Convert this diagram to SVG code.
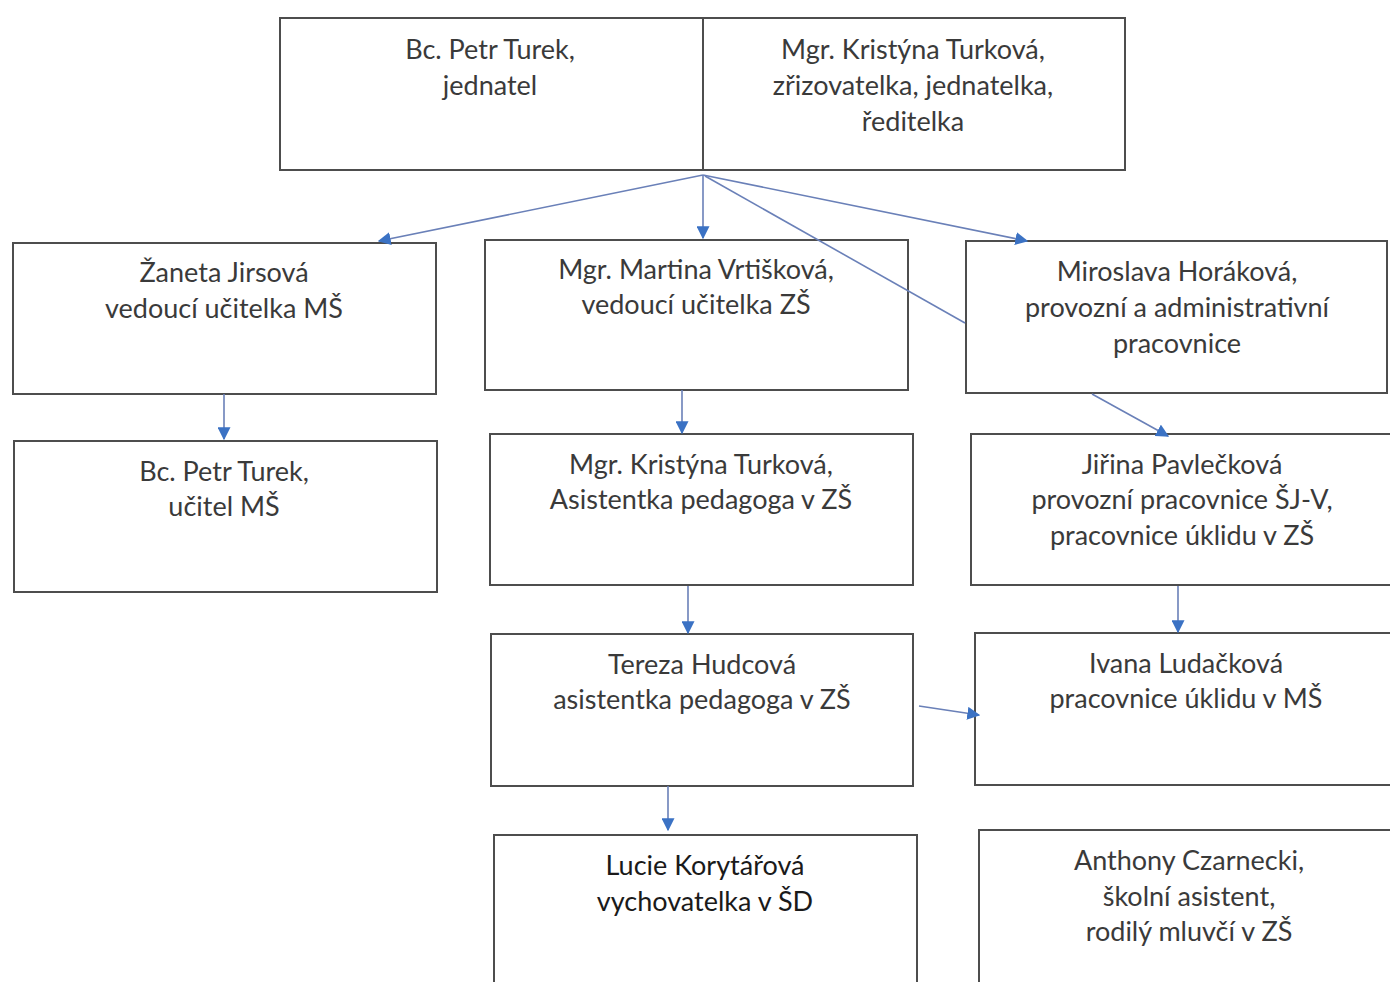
<svg xmlns="http://www.w3.org/2000/svg" width="1390" height="982" viewBox="0 0 1390 982">
<defs>
<style>
.box{fill:#fff;stroke:#4d4d4d;stroke-width:2}
.t{font-family:Lato,"Open Sans","Liberation Sans",sans-serif;font-size:27px;fill:#3a3a3a;text-anchor:middle}
.dk{fill:#1a1a1a}
.c{stroke:#6a80b8;stroke-width:1.6;fill:none}
</style>
<marker id="ah" viewBox="0 0 10 10" refX="9" refY="5" markerWidth="13" markerHeight="13" markerUnits="userSpaceOnUse" orient="auto">
<path d="M0,0 L10,5 L0,10 z" fill="#3b72c4"/>
</marker>
</defs>
<rect width="1390" height="982" fill="#fff"/>
<g id="n-petr-jednatel"><rect class="box" x="280" y="18" width="423" height="152"/>
<text class="t" x="490" y="59">Bc. Petr Turek,</text><text class="t" x="490" y="95">jednatel</text></g>
<g id="n-kristyna-reditelka"><rect class="box" x="703" y="18" width="422" height="152"/>
<text class="t" x="913" y="59">Mgr. Kristýna Turková,</text><text class="t" x="913" y="95">zřizovatelka, jednatelka,</text><text class="t" x="913" y="131">ředitelka</text></g>
<g id="n-zaneta"><rect class="box" x="13" y="243" width="423" height="151"/>
<text class="t" x="224" y="282">Žaneta Jirsová</text><text class="t" x="224" y="318">vedoucí učitelka MŠ</text></g>
<g id="n-martina"><rect class="box" x="485" y="240" width="423" height="150"/>
<text class="t" x="696" y="279">Mgr. Martina Vrtišková,</text><text class="t" x="696" y="314">vedoucí učitelka ZŠ</text></g>
<g id="n-miroslava"><rect class="box" x="966" y="241" width="421" height="152"/>
<text class="t" x="1177" y="281">Miroslava Horáková,</text><text class="t" x="1177" y="317">provozní a administrativní</text><text class="t" x="1177" y="353">pracovnice</text></g>
<g id="n-petr-ucitel"><rect class="box" x="14" y="441" width="423" height="151"/>
<text class="t" x="224" y="481">Bc. Petr Turek,</text><text class="t" x="224" y="516">učitel MŠ</text></g>
<g id="n-kristyna-asistentka"><rect class="box" x="490" y="434" width="423" height="151"/>
<text class="t" x="701" y="474">Mgr. Kristýna Turková,</text><text class="t" x="701" y="509">Asistentka pedagoga v ZŠ</text></g>
<g id="n-jirina"><rect class="box" x="971" y="434" width="422" height="151"/>
<text class="t" x="1182" y="474">Jiřina Pavlečková</text><text class="t" x="1182" y="509">provozní pracovnice ŠJ-V,</text><text class="t" x="1182" y="545">pracovnice úklidu v ZŠ</text></g>
<g id="n-tereza"><rect class="box" x="491" y="634" width="422" height="152"/>
<text class="t" x="702" y="674">Tereza Hudcová</text><text class="t" x="702" y="709">asistentka pedagoga v ZŠ</text></g>
<g id="n-ivana"><rect class="box" x="975" y="633" width="418" height="152"/>
<text class="t" x="1186" y="673">Ivana Ludačková</text><text class="t" x="1186" y="708">pracovnice úklidu v MŠ</text></g>
<g id="n-lucie"><rect class="box" x="494" y="835" width="423" height="160"/>
<text class="t dk" x="705" y="875">Lucie Korytářová</text><text class="t dk" x="705" y="911">vychovatelka v ŠD</text></g>
<g id="n-anthony"><rect class="box" x="979" y="830" width="414" height="165"/>
<text class="t" x="1189" y="870">Anthony Czarnecki,</text><text class="t" x="1189" y="906">školní asistent,</text><text class="t" x="1189" y="941">rodilý mluvčí v ZŠ</text></g>
<g id="connectors">
<line class="c" x1="703" y1="175" x2="379" y2="241" marker-end="url(#ah)"/>
<line class="c" x1="703" y1="175" x2="703" y2="238" marker-end="url(#ah)"/>
<line class="c" x1="705" y1="176" x2="965" y2="323"/>
<line class="c" x1="703" y1="175" x2="1027" y2="241" marker-end="url(#ah)"/>
<line class="c" x1="224" y1="394" x2="224" y2="439" marker-end="url(#ah)"/>
<line class="c" x1="682" y1="390" x2="682" y2="433" marker-end="url(#ah)"/>
<line class="c" x1="1092" y1="394" x2="1168" y2="436" marker-end="url(#ah)"/>
<line class="c" x1="688" y1="586" x2="688" y2="633" marker-end="url(#ah)"/>
<line class="c" x1="1178" y1="586" x2="1178" y2="632" marker-end="url(#ah)"/>
<line class="c" x1="668" y1="786" x2="668" y2="830" marker-end="url(#ah)"/>
<line class="c" x1="919" y1="706" x2="979" y2="715" marker-end="url(#ah)"/>
</g>
</svg>
